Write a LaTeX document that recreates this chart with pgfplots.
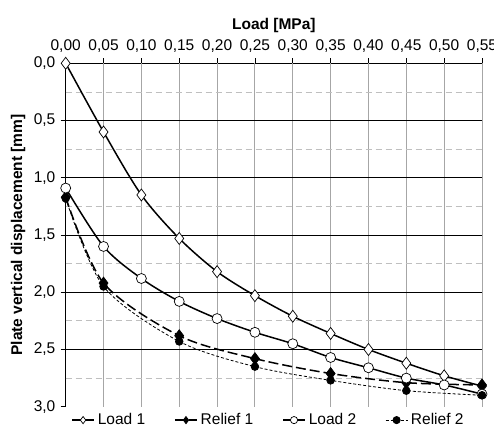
\documentclass[border=0pt]{standalone}
\usepackage{pgfplots}
\pgfplotsset{compat=1.18}
\usepackage{fontspec}
\setmainfont{Liberation Sans}
\begin{document}
\fontsize{15.5}{18}\selectfont
\begin{tikzpicture}[x=1pt,y=1pt]
\begin{axis}[
 at={(65.7pt,31.3pt)}, anchor=south west,
 scale only axis, width=416.3pt, height=343.4pt,
 xmin=0, xmax=0.55, ymin=0, ymax=3, y dir=reverse,
 axis x line*=top, axis y line*=left,
 axis line style={black, line width=1pt, -},
 clip=false,
 xtick={0,0.05,0.1,0.15,0.2,0.25,0.3,0.35,0.4,0.45,0.5,0.55},
 ytick={0,0.5,1,1.5,2,2.5,3},
 tick align=outside, major tick length=5pt,
 tick style={black, line width=0.8pt},
 xticklabel style={/pgf/number format/.cd, use comma, fixed, fixed zerofill, precision=2, assume math mode=true},
 yticklabel style={/pgf/number format/.cd, use comma, fixed, fixed zerofill, precision=1, assume math mode=true},
 xlabel={\textbf{Load [MPa]}},
 ylabel={\textbf{Plate vertical displacement [mm]}},
 xlabel style={yshift=-3pt},
 ylabel style={yshift=-2pt},
 legend columns=4,
 legend style={at={(axis description cs:0.487,-0.039)}, anchor=center, draw=none, fill=none,
   /tikz/every even column/.append style={column sep=27pt}, font=\fontsize{15.5}{18}\selectfont,
   /tikz/every odd column/.append style={column sep=1pt}},
 legend image code/.code={
   \draw[mark repeat=2, mark phase=2, #1, mark size=3.6pt]
     plot coordinates {(0pt,0pt) (11pt,0pt) (22pt,0pt)};},
 legend cell align=left,
]
% grid
\draw[gray!70, line width=1pt]
 (axis cs:0.05,0)--(axis cs:0.05,3) (axis cs:0.10,0)--(axis cs:0.10,3)
 (axis cs:0.15,0)--(axis cs:0.15,3) (axis cs:0.20,0)--(axis cs:0.20,3)
 (axis cs:0.25,0)--(axis cs:0.25,3) (axis cs:0.30,0)--(axis cs:0.30,3)
 (axis cs:0.35,0)--(axis cs:0.35,3) (axis cs:0.40,0)--(axis cs:0.40,3)
 (axis cs:0.45,0)--(axis cs:0.45,3) (axis cs:0.50,0)--(axis cs:0.50,3)
 (axis cs:0.55,0)--(axis cs:0.55,3);
\draw[gray!50, line width=0.8pt, dash pattern=on 6pt off 4pt]
 (axis cs:0,0.25)--(axis cs:0.55,0.25) (axis cs:0,0.75)--(axis cs:0.55,0.75)
 (axis cs:0,1.25)--(axis cs:0.55,1.25) (axis cs:0,1.75)--(axis cs:0.55,1.75)
 (axis cs:0,2.25)--(axis cs:0.55,2.25) (axis cs:0,2.75)--(axis cs:0.55,2.75);
\draw[black, line width=1pt]
 (axis cs:0,0.5)--(axis cs:0.55,0.5) (axis cs:0,1.0)--(axis cs:0.55,1.0)
 (axis cs:0,1.5)--(axis cs:0.55,1.5) (axis cs:0,2.0)--(axis cs:0.55,2.0)
 (axis cs:0,2.5)--(axis cs:0.55,2.5);
% Load 1
\addplot[black, line width=1.5pt, smooth, mark=diamond*, mark size=6pt,
  mark options={solid, fill=white, line width=0.7pt}] coordinates {
 (0,0) (0.05,0.60) (0.10,1.15) (0.15,1.53) (0.20,1.82) (0.25,2.03) (0.30,2.21)
 (0.35,2.36) (0.40,2.50) (0.45,2.62) (0.50,2.73) (0.55,2.82)};
\addlegendentry{Load 1}
% Relief 1
\addplot[black, line width=1.5pt, smooth, dash pattern=on 10pt off 4pt, mark=diamond*, mark size=6pt,
  mark options={solid, fill=black, line width=0.7pt}] coordinates {
 (0,1.17) (0.05,1.92) (0.15,2.38) (0.25,2.58) (0.35,2.71) (0.45,2.79) (0.55,2.81)};
\addlegendentry{Relief 1}
% Load 2
\addplot[black, line width=1.5pt, smooth, mark=*, mark size=5pt,
  mark options={solid, fill=white, line width=0.7pt}] coordinates {
 (0,1.09) (0.05,1.60) (0.10,1.88) (0.15,2.08) (0.20,2.23) (0.25,2.35) (0.30,2.45)
 (0.35,2.57) (0.40,2.66) (0.45,2.75) (0.50,2.81) (0.55,2.89)};
\addlegendentry{Load 2}
% Relief 2
\addplot[black, line width=0.8pt, smooth, dash pattern=on 3pt off 2pt, mark=*, mark size=3.8pt,
  mark options={solid, fill=black}] coordinates {
 (0,1.18) (0.05,1.95) (0.15,2.43) (0.25,2.65) (0.35,2.77) (0.45,2.86) (0.55,2.90)};
\addlegendentry{Relief 2}
\end{axis}
\pgfresetboundingbox
\useasboundingbox (0,0) rectangle (494,438);
\end{tikzpicture}
\end{document}
